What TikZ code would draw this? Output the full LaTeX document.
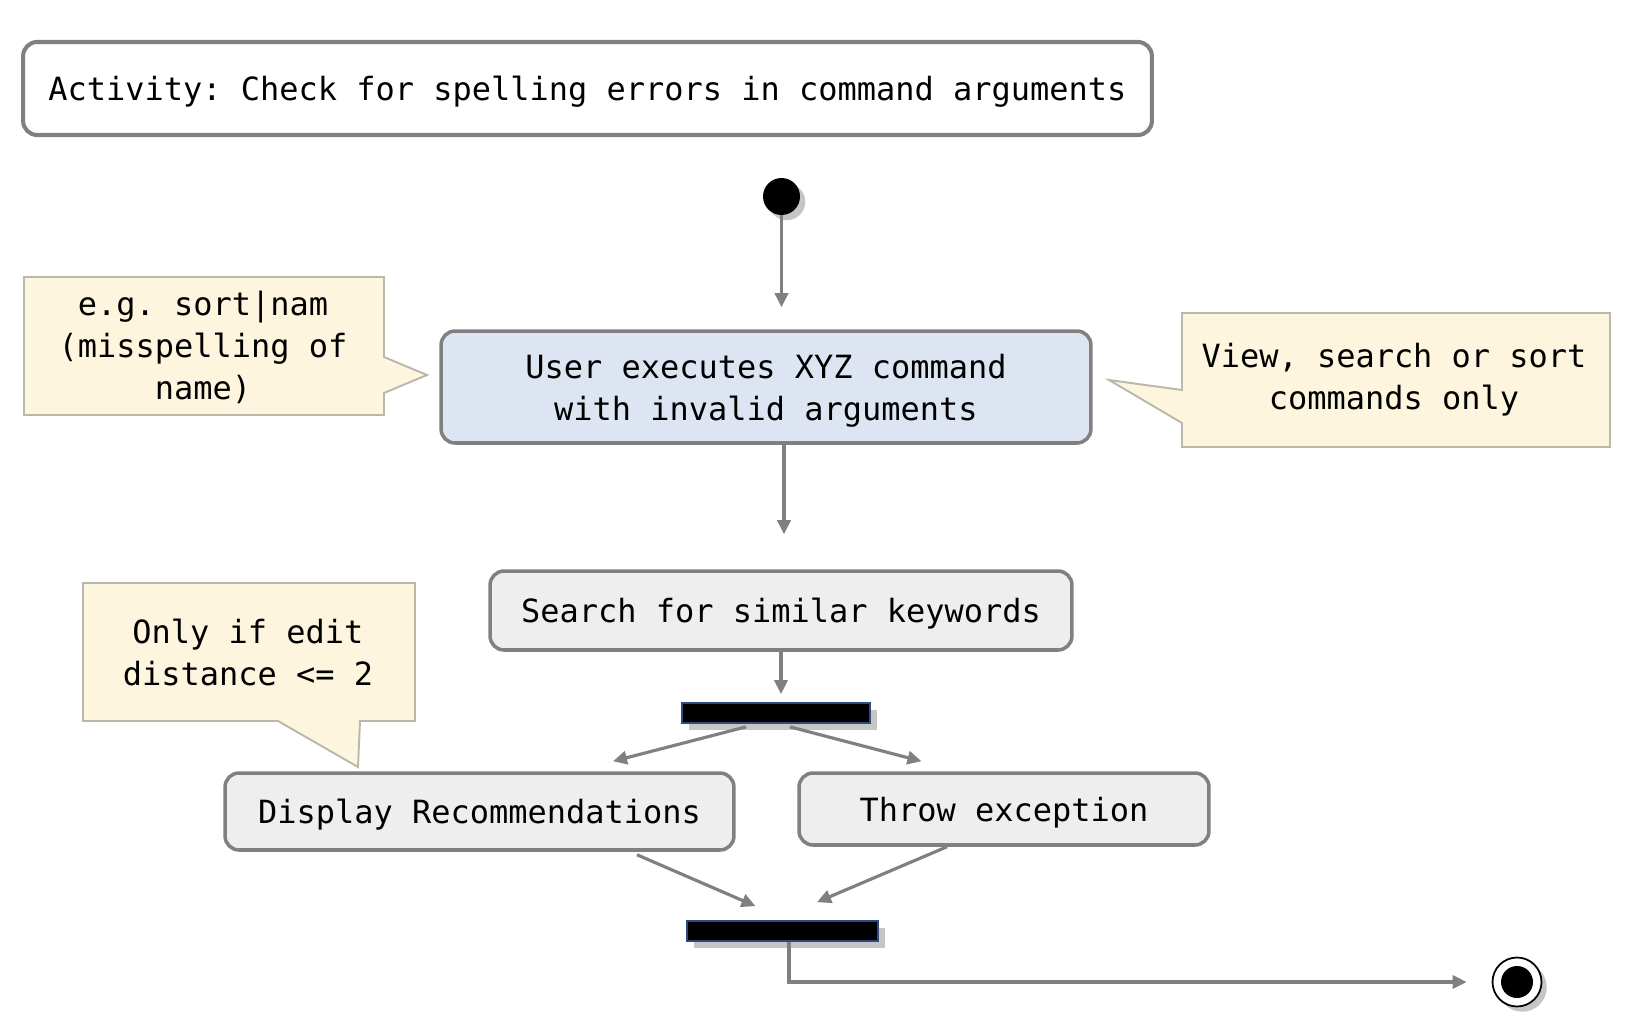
\documentclass[tikz,border=0pt]{standalone}
\usepackage{fontspec}
\setmonofont{DejaVu Sans Mono}
\definecolor{ActBorder} {RGB}{128,128,128}
\definecolor{ActFill}   {RGB}{238,238,238}
\definecolor{ActBlue}   {RGB}{222,229,242}
\definecolor{NoteFill}  {RGB}{253,245,222}
\definecolor{NoteBorder}{RGB}{187,184,170}
\definecolor{BarBorder} {RGB}{46,74,126}
\usetikzlibrary{arrows.meta,shadows}

\begin{document}
\begin{tikzpicture}[x=0.02cm,y=-0.02cm,
  txt/.style={font=\ttfamily\fontsize{18.2}{23.9}\selectfont,align=center},
  act/.style={txt,draw=ActBorder,line width=2pt,rounded corners=0.28cm,
              fill=ActFill,inner sep=0pt,text depth=0pt},
  bar/.style={draw=BarBorder,line width=1pt,fill=black,inner sep=0pt,
              minimum height=0.4cm,
              drop shadow={shadow xshift=4pt,shadow yshift=-4pt,opacity=0.45}},
  flow/.style={draw=ActBorder,line width=1.8pt,
               -{Triangle[length=8pt,width=7.5pt]}},
  note/.style={draw=NoteBorder,line width=1.1pt,fill=NoteFill}]
  \useasboundingbox (0,0) rectangle (1646,1034);
  %% Title
  \node[act,fill=white,line width=2.3pt,minimum width=22.58cm,
        minimum height=1.86cm] (title) at (587.5,88.5)
       {Activity: Check for spelling errors in command arguments};
  %% Start
  \node[circle,fill=black,minimum size=0.74cm,inner sep=0pt,
        drop shadow={shadow xshift=3pt,shadow yshift=-3pt,opacity=0.45}]
       (start) at (781.5,196.5) {};
  %% Actions
  \node[act,fill=ActBlue,minimum width=13cm,minimum height=2.24cm]
       (main) at (766,387)
       {User executes XYZ command\\with invalid arguments};
  \node[act,minimum width=11.64cm,minimum height=1.58cm]
       (search) at (781,610.5) {Search for similar keywords};
  \node[bar,minimum width=3.76cm] (fork) at (776,713) {};
  \node[act,minimum width=10.18cm,minimum height=1.54cm]
       (disp) at (479.5,811.5) {Display Recommendations};
  \node[act,minimum width=8.2cm,minimum height=1.44cm]
       (throw) at (1004,809) {Throw exception};
  \node[bar,minimum width=3.82cm] (join) at (782.5,931) {};
  %% End
  \node[circle,draw=black,line width=1pt,fill=white,minimum size=0.98cm,
        inner sep=0pt,
        drop shadow={shadow xshift=3pt,shadow yshift=-3pt,opacity=0.45}]
       (finish) at (1517,982) {};
  \node[circle,fill=black,minimum size=0.64cm,inner sep=0pt]
       (finishdot) at (finish) {};
  %% Notes
  \draw[note] (24,277)--(384,277)--(384,357)--(427,375)--(384,393)
              --(384,415)--(24,415)--cycle;
  \node[txt] (noteleft) at (203,347)
       {e.g. sort|nam\\(misspelling of\\name)};
  \draw[note] (1182,313)--(1610,313)--(1610,447)--(1182,447)--(1182,423)
              --(1109,380)--(1182,390)--cycle;
  \node[txt] (noteright) at (1394,380)
       {View, search or sort\\commands only};
  \draw[note] (83,583)--(415,583)--(415,721)--(360,721)--(358,767)
              --(278,721)--(83,721)--cycle;
  \node[txt] (notedist) at (248,652)
       {Only if edit\\distance <= 2};
  %% Flow
  \draw[flow,shorten >=0.44cm] (start.south) -- (start.south |- main.north);
  \draw[flow,shorten >=0.7cm] ([xshift=0.06cm]main.south -| search.north)
       -- ([xshift=0.06cm]search.north);
  \draw[flow,shorten >=0.16cm] (search.south) -- (search.south |- fork.north);
  \draw[flow] ([xshift=-0.6cm,yshift=-0.06cm]fork.south)
       -- ([xshift=2.67cm,yshift=0.2cm]disp.north);
  \draw[flow] ([xshift=0.28cm,yshift=-0.06cm]fork.south)
       -- ([xshift=-1.65cm,yshift=0.2cm]throw.north);
  \draw[flow] ([xshift=3.15cm,yshift=-0.06cm]disp.south)
       -- ([xshift=-0.54cm,yshift=0.28cm]join.north);
  \draw[flow] ([xshift=-1.14cm]throw.south)
       -- ([xshift=0.69cm,yshift=0.36cm]join.north);
  \draw[flow,shorten >=0.5cm] ([xshift=0.13cm]join.south) |- (finish.west);
\end{tikzpicture}
\end{document}
